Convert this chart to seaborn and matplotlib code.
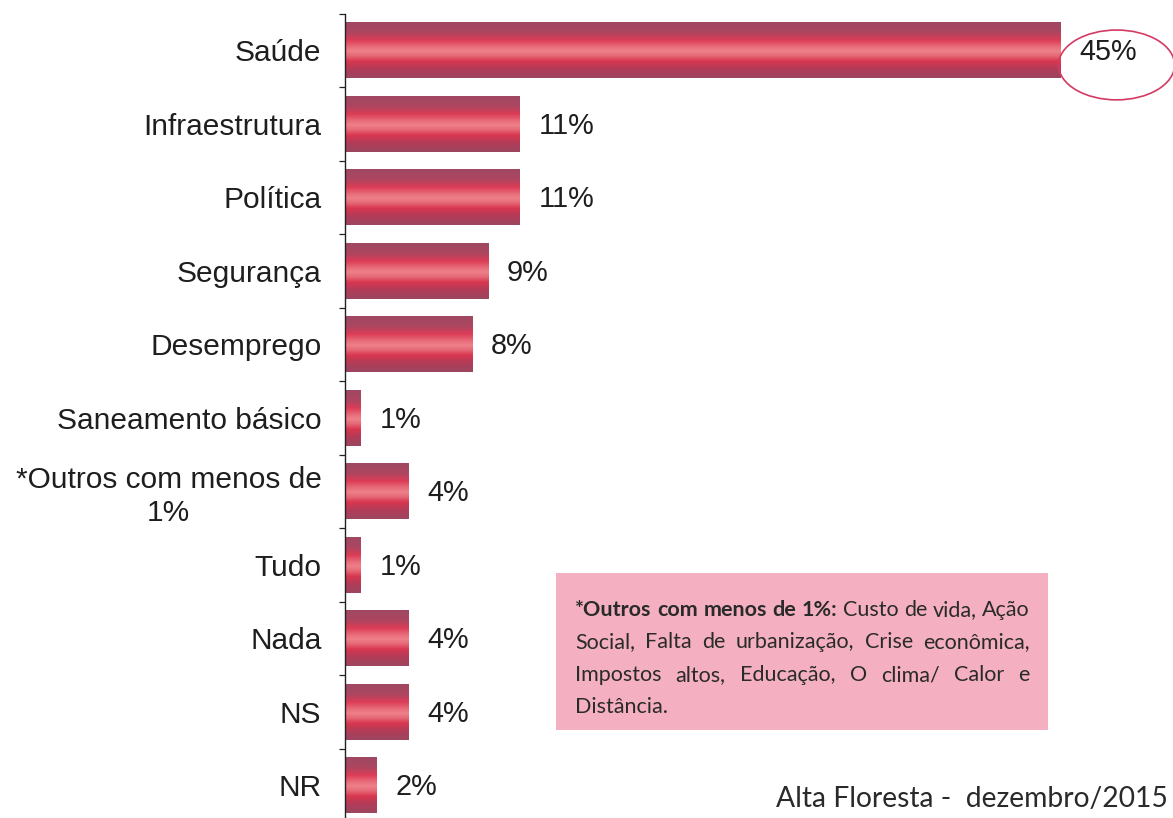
import numpy as np
import pandas as pd
import matplotlib
matplotlib.use("Agg")
import matplotlib.pyplot as plt
import seaborn as sns
from matplotlib.colors import LinearSegmentedColormap
from matplotlib.patches import Ellipse, Rectangle

# Data
categorias = ["Saúde", "Infraestrutura", "Política", "Segurança", "Desemprego",
              "Saneamento básico", "*Outros com menos de\n1%", "Tudo", "Nada", "NS", "NR"]
valores = [45, 11, 11, 9, 8, 1, 4, 1, 4, 4, 2]

nota_linhas = [
    [("*Outros", True), ("com", True), ("menos", True), ("de", True), ("1%:", True),
     ("Custo", False), ("de", False), ("vida,", False), ("Ação", False)],
    [("Social,", False), ("Falta", False), ("de", False), ("urbanização,", False),
     ("Crise", False), ("econômica,", False)],
    [("Impostos", False), ("altos,", False), ("Educação,", False), ("O", False),
     ("clima/", False), ("Calor", False), ("e", False)],
    [("Distância.", False)],
]
rodape = "Alta Floresta -  dezembro/2015"

sns.set_theme(style="white")
plt.rcParams["font.family"] = ["Liberation Sans", "DejaVu Sans"]

W, H = 1173, 818
fig = plt.figure(figsize=(W / 100, H / 100), dpi=100)
fig.patch.set_facecolor("white")
ax = fig.add_axes([345 / W, -4 / H, 828 / W, 808.5 / H])

df = pd.DataFrame({"categoria": categorias, "valor": valores})
sns.barplot(data=df, x="valor", y="categoria", orient="h", ax=ax,
            color="#d83048", saturation=1, width=0.76)

# cylindrical shading for each bar
cmap = LinearSegmentedColormap.from_list("cilindro", [
    (0.00, "#a04862"), (0.18, "#ac4660"), (0.32, "#dc3c56"),
    (0.44, "#e86c7a"), (0.52, "#ee8088"), (0.60, "#e66a78"),
    (0.70, "#d8364f"), (0.84, "#b23c58"), (1.00, "#9c4660")])
grad = np.linspace(0, 1, 256).reshape(-1, 1)
for p in ax.patches:
    x0, y0, w, h = p.get_x(), p.get_y(), p.get_width(), p.get_height()
    im = ax.imshow(grad, cmap=cmap, aspect="auto", extent=[x0, x0 + w, y0 + h, y0],
                   origin="upper", zorder=3, interpolation="bilinear")
    im.set_clip_path(p)
    p.set_edgecolor("none")

ax.set_xlim(0, 52.1)
ax.set_ylim(10.5, -0.5)

# value labels
for i, v in enumerate(valores):
    ax.annotate(f"{v}%", xy=(v, i), xytext=(13.5, -1.5), textcoords="offset points",
                va="center", ha="left", fontsize=20.8, color="#1e1e1e", zorder=5)

# highlight around the largest value
ax.add_patch(Ellipse((45 + 3.55, 0.2), width=7.3, height=0.95, fill=False,
                     edgecolor="#d43a62", lw=1.2, clip_on=False, zorder=6))

ax.set_xlabel("")
ax.set_ylabel("")
ax.set_xticks([])
ax.set_yticks(range(len(categorias)))
ax.set_yticklabels(categorias, fontsize=21.5, color="#1e1e1e")
for lbl in ax.get_yticklabels():
    lbl.set_multialignment("center")
ax.set_yticks(np.arange(-0.5, len(categorias)), minor=True)
ax.tick_params(axis="y", which="major", length=0, pad=17)
ax.tick_params(axis="y", which="minor", length=4.5, width=0.9, direction="out",
               color="#222222", left=True)
for s in ["top", "right", "bottom"]:
    ax.spines[s].set_visible(False)
ax.spines["left"].set_color("#222222")
ax.spines["left"].set_linewidth(1.0)
ax.spines["left"].set_zorder(7)

# note box
bx0, by0, bx1, by1 = 556, 573, 1048, 730
fig.patches.append(Rectangle((bx0 / W, 1 - by1 / H), (bx1 - bx0) / W, (by1 - by0) / H,
                             transform=fig.transFigure, facecolor="#f4b0c1",
                             edgecolor="none", zorder=1))

renderer = fig.canvas.get_renderer()
left_px, right_px = 575, 1030
linha_y = [610, 642, 675, 707]
fonte_nota = ["Lato", "DejaVu Sans"]


def medir(palavras, fs):
    objs = []
    for palavra, negrito in palavras:
        t = fig.text(0, 0, palavra, fontsize=fs, family=fonte_nota,
                     fontweight="bold" if negrito else "normal", color="#2a2a2a",
                     va="center", ha="left", zorder=2)
        objs.append(t)
    return objs, [t.get_window_extent(renderer).width for t in objs]


# font size chosen so the first line fills the box width with plain spaces
base = 14.0
objs, wd = medir(nota_linhas[0], base)
esp = fig.text(0, 0, "a a", fontsize=base, family=fonte_nota).get_window_extent(renderer).width - \
      fig.text(0, 0, "aa", fontsize=base, family=fonte_nota).get_window_extent(renderer).width
for t in list(fig.texts):
    t.remove()
nota_fs = base * (right_px - left_px) / (sum(wd) + esp * (len(wd) - 1))

for li, linha in enumerate(nota_linhas):
    objs, larguras = medir(linha, nota_fs)
    if li < len(nota_linhas) - 1 and len(objs) > 1:
        gap = (right_px - left_px - sum(larguras)) / (len(objs) - 1)
    else:
        gap = 5
    x = left_px
    for t, w_ in zip(objs, larguras):
        t.set_position((x / W, 1 - linha_y[li] / H))
        x += w_ + gap

fig.text(1168 / W, 1 - 799 / H, rodape, fontsize=20.3, family=fonte_nota,
         color="#2a2a2a", ha="right", va="center")

fig.savefig("out.png", dpi=100, facecolor="white")
